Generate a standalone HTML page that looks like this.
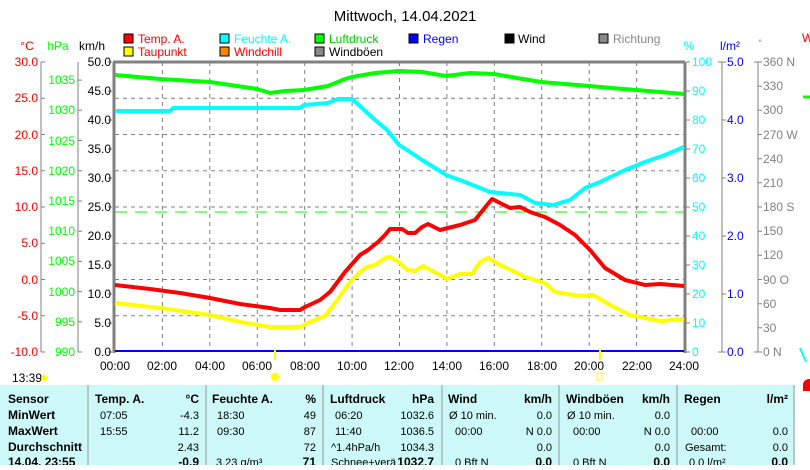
<!DOCTYPE html>
<html><head><meta charset="utf-8"><style>
body{margin:0;background:#fff;width:810px;height:465px;overflow:hidden;font-family:"Liberation Sans",sans-serif}
svg text{font-family:"Liberation Sans",sans-serif}
</style></head><body>
<svg width="810" height="465" viewBox="0 0 810 465" xmlns="http://www.w3.org/2000/svg" font-size="12">
<rect width="810" height="465" fill="#fff"/>
<text x="405" y="21" text-anchor="middle" font-size="15">Mittwoch, 14.04.2021</text>
<!-- legend -->
<g font-size="12">
<rect x="124" y="34" width="9" height="9" fill="#f00" stroke="#000"/><text x="138" y="43" fill="#f00">Temp. A.</text>
<rect x="124" y="47" width="9" height="9" fill="#ff0" stroke="#000"/><text x="138" y="56" fill="#f00">Taupunkt</text>
<rect x="220" y="34" width="9" height="9" fill="#0ff" stroke="#000"/><text x="234" y="43" fill="#0ff">Feuchte A.</text>
<rect x="220" y="47" width="9" height="9" fill="#f80" stroke="#000"/><text x="234" y="56" fill="#f00">Windchill</text>
<rect x="315" y="34" width="9" height="9" fill="#0f0" stroke="#000"/><text x="329" y="43" fill="#0c0">Luftdruck</text>
<rect x="315" y="47" width="9" height="9" fill="#888" stroke="#000"/><text x="329" y="56">Windböen</text>
<rect x="409" y="34" width="9" height="9" fill="#00f" stroke="#000"/><text x="423" y="43" fill="#00f">Regen</text>
<rect x="505" y="34" width="9" height="9" fill="#000" stroke="#000"/><text x="518" y="43">Wind</text>
<rect x="599" y="34" width="9" height="9" fill="#888" stroke="#000"/><text x="613" y="43" fill="#888">Richtung</text>
</g>
<text x="27" y="50" text-anchor="middle" fill="#f00">°C</text>
<text x="58" y="50" text-anchor="middle" fill="#0f0">hPa</text>
<text x="92" y="50" text-anchor="middle">km/h</text>
<text x="689" y="50" text-anchor="middle" fill="#0ff">%</text>
<text x="730" y="50" text-anchor="middle" fill="#00f">l/m²</text>
<text x="760" y="46" text-anchor="middle" fill="#888" font-size="9">°</text>
<text x="802" y="42" fill="#f00">W</text>
<!-- grid -->
<g stroke="#808080" stroke-dasharray="4,4" stroke-width="1">
<path d="M115 98.25H684M115 134.5H684M115 170.75H684M115 207H684M115 243.25H684M115 279.5H684M115 315.75H684"/>
<path d="M162.4 62V352M209.8 62V352M257.3 62V352M304.7 62V352M352.1 62V352M399.5 62V352M446.9 62V352M494.3 62V352M541.7 62V352M589.2 62V352M636.6 62V352"/>
</g>
<line x1="115" y1="212" x2="684" y2="212" stroke="#0f0" stroke-dasharray="12,8"/>
<!-- axes -->
<g stroke="#808080" fill="none">
<path d="M114 62V353M113 62H685M685 62V353" stroke-width="3"/>
<path d="M41 62V352M78 62V352M722 62V352M758 62V352"/>
</g>
<g stroke="#808080">
<path d="M41 62h4M41 98.25h4M41 134.5h4M41 170.75h4M41 207h4M41 243.25h4M41 279.5h4M41 315.75h4M41 352h4"/>
<path d="M78 80.1h4M78 110.3h4M78 140.5h4M78 170.8h4M78 201h4M78 231.2h4M78 261.4h4M78 291.6h4M78 321.8h4M78 352h4"/>
<path d="M108 62h4M108 91h4M108 120h4M108 149h4M108 178h4M108 207h4M108 236h4M108 265h4M108 294h4M108 323h4M108 352h4"/>
<path d="M686 62h4M686 91h4M686 120h4M686 149h4M686 178h4M686 207h4M686 236h4M686 265h4M686 294h4M686 323h4M686 352h4"/>
<path d="M718 62h8M722 120h4M722 178h4M722 236h4M722 294h4M718 352h8"/>
<path d="M754 62h8M758 86.2h4M758 110.3h4M758 134.5h4M758 158.7h4M758 182.8h4M758 207h4M758 231.2h4M758 255.3h4M758 279.5h4M758 303.7h4M758 327.8h4M754 352h8"/>
</g>
<g fill="#f00" text-anchor="end">
<text x="38" y="66">30.0</text><text x="38" y="102">25.0</text><text x="38" y="139">20.0</text><text x="38" y="175">15.0</text><text x="38" y="211">10.0</text><text x="38" y="247">5.0</text><text x="38" y="284">0.0</text><text x="38" y="320">-5.0</text><text x="38" y="356">-10.0</text>
</g>
<g fill="#0f0" text-anchor="end">
<text x="75" y="84">1035</text><text x="75" y="114">1030</text><text x="75" y="145">1025</text><text x="75" y="175">1020</text><text x="75" y="205">1015</text><text x="75" y="235">1010</text><text x="75" y="265">1005</text><text x="75" y="296">1000</text><text x="75" y="326">995</text><text x="75" y="356">990</text>
</g>
<g text-anchor="end">
<text x="111" y="66">50.0</text><text x="111" y="95">45.0</text><text x="111" y="124">40.0</text><text x="111" y="153">35.0</text><text x="111" y="182">30.0</text><text x="111" y="211">25.0</text><text x="111" y="240">20.0</text><text x="111" y="269">15.0</text><text x="111" y="298">10.0</text><text x="111" y="327">5.0</text><text x="111" y="356">0.0</text>
</g>
<g fill="#0ff">
<text x="692" y="66">100</text><text x="692" y="95">90</text><text x="692" y="124">80</text><text x="692" y="153">70</text><text x="692" y="182">60</text><text x="692" y="211">50</text><text x="692" y="240">40</text><text x="692" y="269">30</text><text x="692" y="298">20</text><text x="692" y="327">10</text><text x="692" y="356">0</text>
</g>
<g fill="#00f">
<text x="727" y="66">5.0</text><text x="727" y="124">4.0</text><text x="727" y="182">3.0</text><text x="727" y="240">2.0</text><text x="727" y="298">1.0</text><text x="727" y="356">0.0</text>
</g>
<g fill="#808080">
<text x="763" y="66">360 N</text><text x="763" y="90">330</text><text x="763" y="114">300</text><text x="763" y="139">270 W</text><text x="763" y="163">240</text><text x="763" y="187">210</text><text x="763" y="211">180 S</text><text x="763" y="235">150</text><text x="763" y="259">120</text><text x="763" y="284">90  O</text><text x="763" y="308">60</text><text x="763" y="332">30</text><text x="763" y="356">0    N</text>
</g>
<!-- series -->
<line x1="115" y1="351" x2="684" y2="351" stroke="#00f" stroke-width="2"/>
<g fill="none" stroke-width="4" stroke-linejoin="round">
<polyline stroke="#0f0" points="115,75 160,79 210,82 257,89 270,93 285,91 304,90 328,86 345,79 352,77 375,73 399,71 422,72 446,76 470,73 494,74 517,78 541,82 565,84 589,86 612,88 636,90 660,92 684,94"/>
<polyline stroke="#0ff" points="115,111 170,111 173,108 300,108 304,105 328,103 338,99 352,99 362,108 375,120 387,130 399,145 410,152 422,160 435,168 446,175 465,182 480,188 490,192 520,195 535,203 553,205 570,200 585,188 600,182 625,170 645,162 665,155 684,147"/>
<polyline stroke="#f00" points="115,285 150,289 180,293 210,298 240,304 270,308 280,310 300,310 305,307 320,300 330,292 345,272 360,255 368,250 378,242 385,235 390,229 402,229 408,233 415,233 422,227 428,224 440,230 460,225 475,220 487,205 492,199 500,203 510,208 520,207 530,212 545,217 560,225 575,235 590,250 605,268 625,280 645,285 660,284 684,286"/>
<polyline stroke="#ff0" points="115,303 160,308 210,315 240,322 270,327 300,327 310,322 325,316 335,303 350,282 360,272 367,267 375,265 385,258 390,257 400,263 407,270 415,271 423,266 440,275 447,279 460,274 472,274 480,262 488,258 500,265 515,272 525,277 545,283 555,292 580,296 593,295 610,305 630,315 660,321 684,319"/>
</g>
<!-- bottom labels -->
<g text-anchor="middle">
<text x="115" y="370">00:00</text><text x="162" y="370">02:00</text><text x="210" y="370">04:00</text><text x="257" y="370">06:00</text><text x="305" y="370">08:00</text><text x="352" y="370">10:00</text><text x="399" y="370">12:00</text><text x="447" y="370">14:00</text><text x="494" y="370">16:00</text><text x="542" y="370">18:00</text><text x="589" y="370">20:00</text><text x="637" y="370">22:00</text><text x="684" y="370">24:00</text>
</g>
<text x="12" y="382">13:39</text>
<circle cx="44" cy="378" r="3" fill="#ff0"/>
<circle cx="275" cy="377" r="4" fill="#ff0"/>
<rect x="597" y="373" width="5" height="7" fill="none" stroke="#ff0"/>
<line x1="275" y1="350" x2="275" y2="360" stroke="#ff0" stroke-width="2"/>
<line x1="600" y1="350" x2="600" y2="360" stroke="#ff0" stroke-width="2"/>
<!-- table -->
<rect x="0" y="385" width="795" height="80" fill="#ccf8f8"/>
<g stroke="#999"><path d="M88 385V465M206 385V465M323 385V465M442 385V465M559 385V465M677 385V465M794 385V465"/></g>
<path d="M803 385c0-4 3-6 7-6v12h-7z" fill="#f00"/>
<g font-size="12" font-weight="bold">
<text x="8" y="403">Sensor</text><text x="8" y="419">MinWert</text><text x="8" y="435">MaxWert</text><text x="8" y="451">Durchschnitt</text><text x="8" y="466">14.04. 23:55</text>
<text x="95" y="403">Temp. A.</text><text x="199" y="403" text-anchor="end">°C</text>
<text x="212" y="403">Feuchte A.</text><text x="316" y="403" text-anchor="end">%</text>
<text x="330" y="403">Luftdruck</text><text x="434" y="403" text-anchor="end">hPa</text>
<text x="448" y="403">Wind</text><text x="552" y="403" text-anchor="end">km/h</text>
<text x="566" y="403">Windböen</text><text x="670" y="403" text-anchor="end">km/h</text>
<text x="684" y="403">Regen</text><text x="788" y="403" text-anchor="end">l/m²</text>
<text x="199" y="466" text-anchor="end">-0.9</text><text x="316" y="466" text-anchor="end">71</text><text x="434" y="466" text-anchor="end">1032.7</text><text x="552" y="466" text-anchor="end">0.0</text><text x="670" y="466" text-anchor="end">0.0</text><text x="788" y="466" text-anchor="end">0.0</text>
</g>
<g font-size="11">
<text x="100" y="419">07:05</text><text x="199" y="419" text-anchor="end">-4.3</text>
<text x="100" y="435">15:55</text><text x="199" y="435" text-anchor="end">11.2</text>
<text x="199" y="451" text-anchor="end">2.43</text>
<text x="217" y="419">18:30</text><text x="316" y="419" text-anchor="end">49</text>
<text x="217" y="435">09:30</text><text x="316" y="435" text-anchor="end">87</text>
<text x="316" y="451" text-anchor="end">72</text>
<text x="216" y="466">3.23 g/m³</text>
<text x="335" y="419">06:20</text><text x="434" y="419" text-anchor="end">1032.6</text>
<text x="335" y="435">11:40</text><text x="434" y="435" text-anchor="end">1036.5</text>
<text x="331" y="451">^1.4hPa/h</text><text x="434" y="451" text-anchor="end">1034.3</text>
<text x="331" y="466">Schnee+verä</text>
<text x="449" y="419">Ø 10 min.</text><text x="552" y="419" text-anchor="end">0.0</text>
<text x="455" y="435">00:00</text><text x="552" y="435" text-anchor="end">N 0.0</text>
<text x="552" y="451" text-anchor="end">0.0</text><text x="455" y="466">0 Bft N</text>
<text x="567" y="419">Ø 10 min.</text><text x="670" y="419" text-anchor="end">0.0</text>
<text x="573" y="435">00:00</text><text x="670" y="435" text-anchor="end">N 0.0</text>
<text x="670" y="451" text-anchor="end">0.0</text><text x="573" y="466">0 Bft N</text>
<text x="691" y="435">00:00</text><text x="788" y="435" text-anchor="end">0.0</text>
<text x="685" y="451">Gesamt:</text><text x="788" y="451" text-anchor="end">0.0</text>
<text x="689" y="466">0.0 l/m²</text>
</g>
<line x1="803" y1="97" x2="810" y2="97" stroke="#0f0" stroke-width="3"/>
<path d="M800 348l6 14" stroke="#0ff" stroke-width="2"/>
</svg>
</body></html>
